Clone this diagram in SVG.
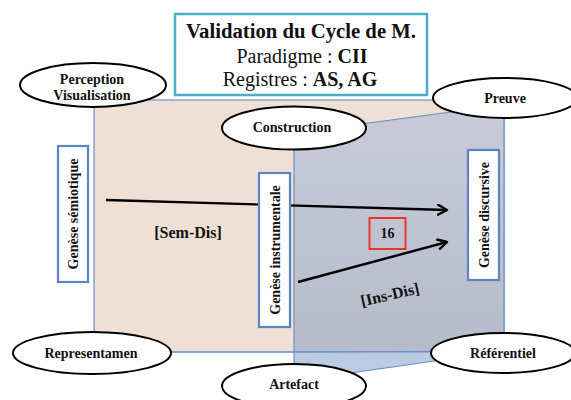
<svg xmlns="http://www.w3.org/2000/svg" width="571" height="400" viewBox="0 0 571 400">
<defs>
<linearGradient id="gBlue" x1="0" y1="0" x2="0" y2="1">
<stop offset="0" stop-color="#c9cbd7"/>
<stop offset="1" stop-color="#b6bbcb"/>
</linearGradient>
<marker id="arr" markerWidth="12" markerHeight="12" refX="10" refY="6" orient="auto" markerUnits="userSpaceOnUse">
<path d="M1,1 L10,6 L1,11" fill="none" stroke="#000" stroke-width="2.4" stroke-linecap="round" stroke-linejoin="round"/>
</marker>
<style>
text{font-family:"Liberation Serif","Times New Roman",serif;fill:#111;}
.lbl{font-size:14px;font-weight:bold;text-anchor:middle;}
.ell{fill:#fff;stroke:#000;stroke-width:2;}
.vbox{fill:#fff;stroke:#5b84c4;stroke-width:2.2;}
.edge{stroke:#6c8fc8;stroke-width:1.2;}
.arrow{fill:none;stroke:#000;stroke-width:2.4;marker-end:url(#arr);}
.title{font-size:20px;text-anchor:middle;}
</style>
</defs>

<g id="planes">
<rect x="94" y="100" width="410" height="252" fill="#eee0d5" class="edge"/>
<polygon points="294,133 504,105 504,352 294,352" fill="url(#gBlue)" class="edge"/>
<polygon points="294,352 504,351 294,381" fill="#b9cce4" class="edge"/>
<line x1="94" y1="352" x2="504" y2="352" class="edge"/>
</g>

<g id="connectors">
<path class="arrow" d="M106,200 L447,210"/>
<path class="arrow" d="M298,282 L447,242"/>
</g>

<g id="labels">
<text x="188" y="238" class="lbl" style="font-size:16px">[Sem-Dis]</text>
<text x="390" y="300" class="lbl" style="font-size:16px" transform="rotate(-13 390 295)">[Ins-Dis]</text>
</g>

<g id="n16">
<rect x="369.5" y="218" width="36" height="31" fill="none" stroke="#e8372a" stroke-width="2"/>
<text x="387.5" y="238" class="lbl">16</text>
</g>

<g id="genese-semiotique">
<rect x="58" y="146" width="30" height="136" class="vbox"/>
<text x="73" y="214" class="lbl" transform="rotate(-90 73 214)" dy="5">Genèse sémiotique</text>
</g>
<g id="genese-instrumentale">
<rect x="259" y="173" width="31" height="154" class="vbox"/>
<text x="274.5" y="250" class="lbl" transform="rotate(-90 274.5 250)" dy="5">Genèse instrumentale</text>
</g>
<g id="genese-discursive">
<rect x="468" y="150" width="31" height="130" class="vbox"/>
<text x="483.5" y="215" class="lbl" transform="rotate(-90 483.5 215)" dy="5">Genèse discursive</text>
</g>

<g id="perception">
<ellipse cx="93" cy="85" rx="73" ry="22" class="ell"/>
<text x="92" y="84" class="lbl">Perception</text>
<text x="92" y="100" class="lbl">Visualisation</text>
</g>
<g id="construction">
<ellipse cx="294" cy="128" rx="72" ry="21.5" class="ell"/>
<text x="292" y="132" class="lbl">Construction</text>
</g>
<g id="preuve">
<ellipse cx="505" cy="98" rx="72" ry="20" class="ell"/>
<text x="505" y="103" class="lbl">Preuve</text>
</g>
<g id="representamen">
<ellipse cx="92" cy="353" rx="79" ry="21" class="ell"/>
<text x="91" y="358" class="lbl">Representamen</text>
</g>
<g id="referentiel">
<ellipse cx="503" cy="353" rx="72" ry="20" class="ell"/>
<text x="503" y="358" class="lbl">Référentiel</text>
</g>
<g id="artefact">
<ellipse cx="294" cy="386" rx="72" ry="22" class="ell"/>
<text x="294" y="389" class="lbl">Artefact</text>
</g>

<g id="title">
<rect x="175" y="14" width="252" height="81" fill="#fff" stroke="#4bacc6" stroke-width="2.5"/>
<text x="301" y="38" class="title" font-weight="bold" textLength="230" lengthAdjust="spacingAndGlyphs">Validation du Cycle de M.</text>
<text x="302" y="63" class="title">Paradigme : <tspan font-weight="bold">CII</tspan></text>
<text x="300" y="86" class="title">Registres : <tspan font-weight="bold">AS, AG</tspan></text>
</g>
</svg>
